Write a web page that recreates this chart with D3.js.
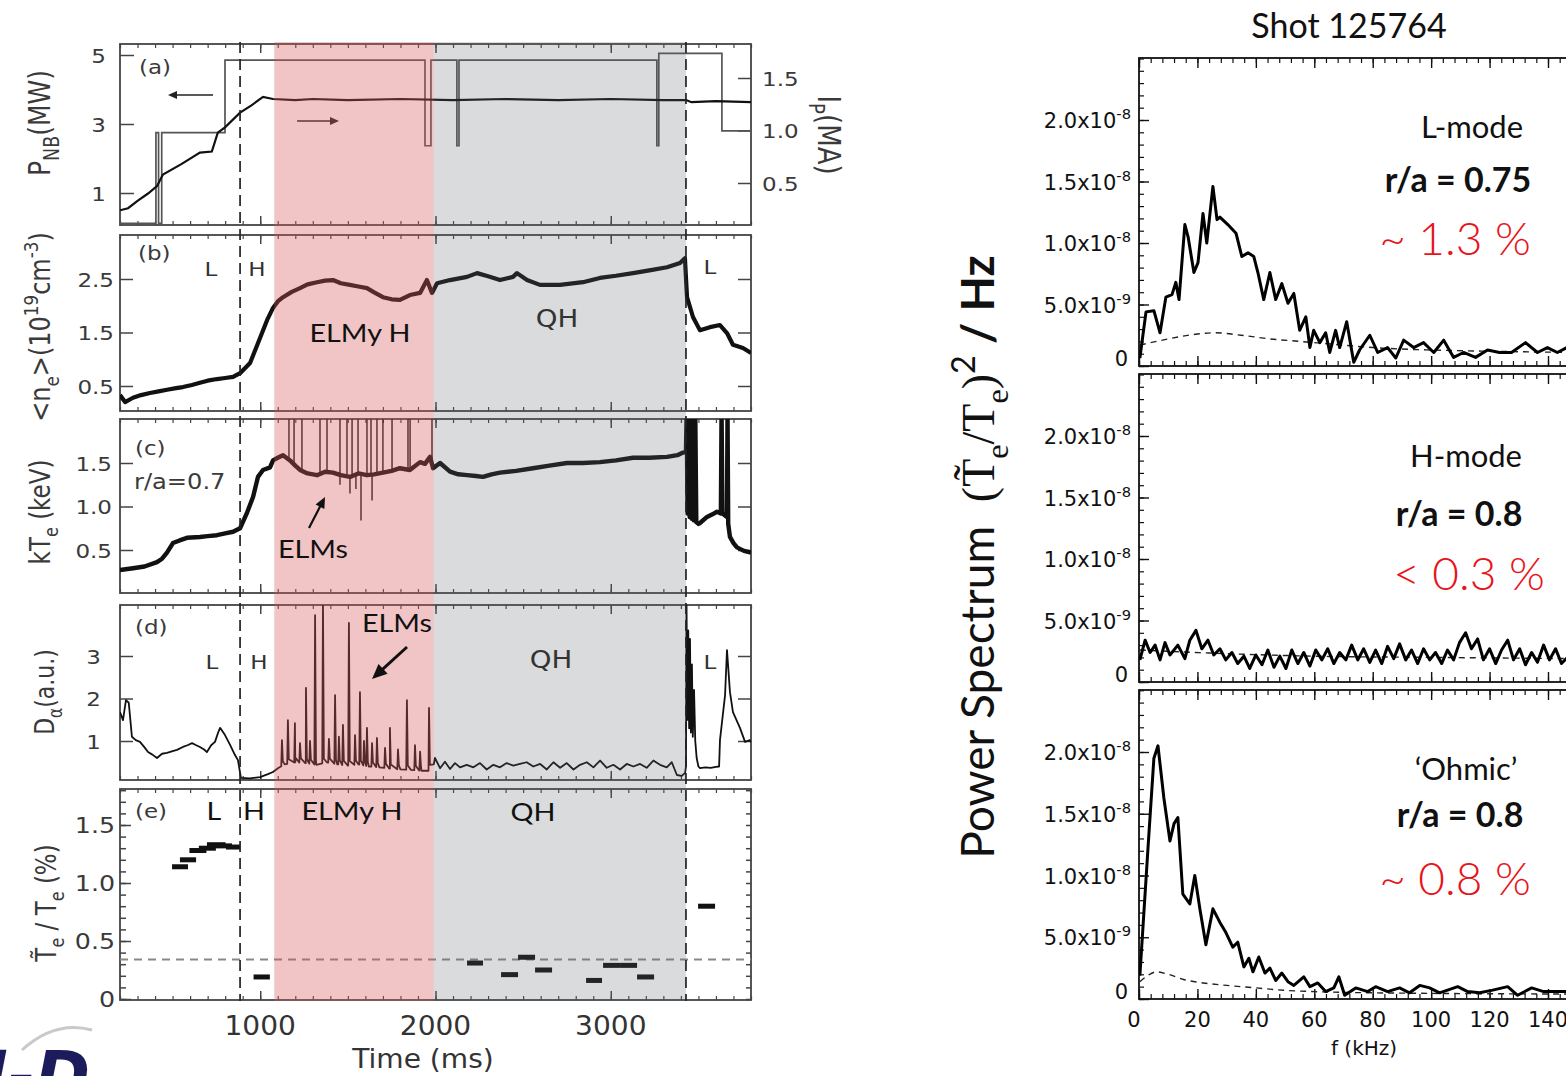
<!DOCTYPE html>
<html><head><meta charset="utf-8">
<script src="https://cdn.jsdelivr.net/npm/d3@7"></script>
<style>body{margin:0;background:#fff;overflow:hidden} svg{display:block} text{white-space:pre}</style>
</head><body>
<svg id="c" width="1566" height="1076"></svg>
<script>
// ================= DATA =================
const timeTicks = [1000, 2000, 3000];
const timeTickLabels = ["1000", "2000", "3000"];
const pnbTicks = [1, 3, 5];
const ipTicks = [0.5, 1.0, 1.5];
const neTicks = [0.5, 1.5, 2.5];
const teTicks = [0.5, 1.0, 1.5];
const daTicks = [1, 2, 3];
const flTicks = [0, 0.5, 1.0, 1.5];
const elmyBand = [1080, 1990];
const qhBand = [1990, 3429];
const transitions = [885, 3429];

// (a) neutral beam power (MW), step trace
const pnbSteps = [[200,0.12],[405,2.75],[420,0.12],[438,2.75],[799,4.85],[1940,2.37],[1974,4.85],[2122,2.37],[2134,4.85],[3263,2.37],[3274,5.05],[3634,2.8],[3800,2.8]];
// (a) plasma current (MA)
const ipTrace = [[200,0.24],[246,0.26],[300,0.33],[360,0.40],[411,0.47],[445,0.58],[550,0.68],[656,0.79],[724,0.80],[758,0.98],[799,1.03],[885,1.17],[950,1.24],[1016,1.32],[1073,1.30],[1200,1.29],[1300,1.30],[1500,1.29],[1800,1.30],[2100,1.29],[2400,1.30],[2700,1.29],[3000,1.30],[3300,1.29],[3430,1.29],[3460,1.27],[3600,1.28],[3800,1.27]];
// (b) line averaged density (1e19 cm^-3)
const neTrace = [[200,0.33],[229,0.20],[274,0.28],[320,0.33],[371,0.37],[420,0.40],[468,0.43],[520,0.46],[559,0.48],[610,0.52],[656,0.56],[700,0.60],[753,0.63],[800,0.65],[845,0.67],[885,0.74],[942,0.93],[987,1.30],[1039,1.73],[1073,1.96],[1100,2.08],[1130,2.16],[1180,2.26],[1227,2.33],[1270,2.40],[1324,2.44],[1370,2.47],[1415,2.48],[1460,2.42],[1512,2.39],[1560,2.36],[1609,2.33],[1650,2.25],[1700,2.16],[1750,2.12],[1797,2.11],[1854,2.20],[1912,2.24],[1951,2.48],[1980,2.24],[2009,2.42],[2083,2.48],[2180,2.54],[2237,2.61],[2300,2.55],[2368,2.48],[2442,2.54],[2465,2.61],[2522,2.48],[2596,2.39],[2710,2.39],[2841,2.44],[2938,2.52],[3030,2.56],[3127,2.61],[3220,2.66],[3321,2.72],[3395,2.80],[3423,2.89],[3435,2.16],[3469,1.79],[3509,1.54],[3566,1.60],[3623,1.64],[3663,1.49],[3697,1.27],[3754,1.21],[3800,1.12]];
// (c) electron temperature (keV)
const teTrace = [[200,0.27],[274,0.29],[340,0.31],[411,0.36],[440,0.40],[468,0.47],[502,0.58],[540,0.61],[582,0.64],[656,0.65],[700,0.66],[753,0.67],[800,0.69],[845,0.71],[885,0.75],[925,0.93],[959,1.11],[987,1.34],[1016,1.42],[1056,1.45],[1073,1.53],[1100,1.56],[1130,1.59],[1170,1.53],[1200,1.47],[1227,1.42],[1270,1.38],[1324,1.36],[1370,1.40],[1415,1.39],[1460,1.36],[1512,1.34],[1560,1.38],[1609,1.36],[1650,1.37],[1700,1.39],[1750,1.41],[1797,1.44],[1854,1.42],[1912,1.51],[1940,1.49],[1969,1.57],[1986,1.44],[2026,1.50],[2083,1.40],[2130,1.37],[2180,1.36],[2230,1.35],[2271,1.34],[2320,1.37],[2368,1.39],[2460,1.41],[2556,1.44],[2650,1.47],[2750,1.50],[2840,1.50],[2938,1.51],[3030,1.53],[3127,1.56],[3220,1.56],[3321,1.57],[3380,1.59],[3412,1.62],[3429,1.63],[3433,2.1],[3438,0.92],[3444,2.1],[3450,0.88],[3456,2.1],[3462,0.86],[3468,2.1],[3474,0.84],[3482,2.1],[3488,0.82],[3500,0.80],[3509,0.81],[3549,0.88],[3580,0.91],[3606,0.94],[3628,0.92],[3632,2.1],[3637,0.92],[3650,0.90],[3663,0.88],[3666,2.1],[3670,0.80],[3680,0.65],[3700,0.58],[3720,0.53],[3760,0.49],[3800,0.47]];
const teElmUp = [1164,1193,1238,1341,1381,1455,1495,1524,1558,1609,1632,1666,1700,1752,1843,1855,1980];
const teElmDown = [[1455,1.25],[1512,1.15],[1546,1.2],[1575,0.84],[1638,1.07]];
// (d) D-alpha (a.u.)
const daTrace = [[200,1.68],[217,1.49],[234,1.96],[250,1.9],[268,1.1],[290,1.02],[314,0.98],[340,0.85],[360,0.74],[385,0.68],[411,0.60],[440,0.70],[468,0.72],[500,0.76],[525,0.79],[559,0.86],[585,0.90],[611,0.95],[635,0.90],[656,0.86],[680,0.80],[696,0.74],[720,0.90],[742,0.98],[760,1.20],[771,1.31],[799,1.14],[828,0.91],[856,0.67],[873,0.55],[890,0.13],[940,0.12],[999,0.15],[1044,0.22],[1073,0.27],[1101,0.36],[1140,0.45],[1200,0.50],[1260,0.48],[1320,0.44],[1380,0.50],[1440,0.45],[1500,0.42],[1560,0.45],[1620,0.40],[1680,0.38],[1740,0.35],[1800,0.33],[1860,0.32],[1920,0.30],[1960,0.30],[1990,0.45],
 [1997,0.60],[2026,0.36],[2054,0.51],[2083,0.34],[2111,0.48],[2140,0.38],[2178,0.44],[2216,0.38],[2254,0.48],[2292,0.33],[2330,0.44],[2368,0.38],[2406,0.48],[2444,0.42],[2482,0.46],[2520,0.50],[2558,0.40],[2597,0.46],[2635,0.33],[2673,0.50],[2711,0.37],[2749,0.48],[2787,0.33],[2825,0.44],[2863,0.50],[2901,0.38],[2939,0.54],[2977,0.37],[3015,0.44],[3053,0.33],[3091,0.46],[3129,0.40],[3167,0.46],[3205,0.37],[3243,0.54],[3281,0.44],[3319,0.38],[3348,0.50],[3377,0.20],[3405,0.18],[3424,0.25],
 [3429,0.40],[3432,4.3],[3437,1.5],[3442,3.6],[3447,1.3],[3452,3.4],[3457,1.2],[3463,2.8],[3468,1.1],[3475,2.2],[3482,1.0],[3490,0.6],[3500,0.40],[3509,0.36],[3540,0.38],[3570,0.37],[3600,0.39],[3618,0.40],[3623,1.02],[3652,2.08],[3663,3.14],[3680,2.15],[3697,1.68],[3737,1.31],[3766,0.98],[3794,1.02],[3800,0.97]];
const daElmSpikes = [[1124,1.02],[1158,1.49],[1198,1.42],[1227,0.95],[1261,2.25],[1284,1.0],[1313,3.96],[1358,4.25],[1392,1.05],[1427,2.08],[1449,1.1],[1472,1.38],[1506,3.78],[1541,1.14],[1569,2.15],[1592,1.0],[1609,1.31],[1638,0.95],[1666,1.07],[1712,0.84],[1740,1.31],[1786,0.8],[1837,1.96],[1883,0.9],[1912,0.75],[1963,1.78]];
// (e) fluctuation level (%) : [t start, t end, value]
const flucBars = [[497,588,1.14],[542,634,1.20],[596,693,1.28],[650,747,1.30],[696,802,1.33],[742,839,1.32],[805,885,1.31],[962,1055,0.19],[2180,2271,0.31],[2374,2471,0.21],[2471,2568,0.36],[2568,2665,0.25],[2859,2950,0.16],[2956,3053,0.29],[3053,3150,0.29],[3150,3247,0.19],[3498,3595,0.80]];
const flucLevel = 0.34;

// Right: power spectra, frequency (kHz) vs power (1e-9 /Hz)
const freqTicks = [0, 20, 40, 60, 80, 100, 120, 140];
const psTicks = [0, 5, 10, 15, 20];
const psTickLabels = [["0",""],["5.0x10","-9"],["1.0x10","-8"],["1.5x10","-8"],["2.0x10","-8"]];
const lmodeSpec = [[0.3,0.65],[2.4,4.4],[5.1,4.5],[7.2,2.7],[9.2,5.6],[11.3,5.8],[12.6,6.8],[13.7,5.4],[15.7,11.5],[16.8,10.5],[18.8,7.6],[20.2,8.4],[21.9,12.4],[23.2,10.0],[25.3,14.6],[26.7,11.9],[27.7,12.1],[30.4,11.5],[33.2,10.8],[35.2,8.9],[37.3,9.2],[39.3,8.9],[40.7,7.6],[42.7,5.4],[44.8,7.6],[46.8,5.4],[48.9,6.7],[51.0,5.1],[53.0,5.9],[55.0,2.9],[57.1,4.0],[58.5,1.5],[59.8,2.9],[61.9,1.9],[63.9,2.7],[65.3,1.1],[67.3,2.9],[68.7,1.5],[71.1,3.6],[73.5,0.3],[75.5,1.3],[79.0,2.5],[81.7,1.1],[85.1,1.5],[87.9,0.65],[90.6,2.1],[94.0,1.5],[97.4,1.9],[100.9,1.1],[104.3,2.1],[107.7,0.7],[111.1,1.1],[115.2,0.7],[119.3,1.3],[123.4,1.1],[127.5,1.1],[132.3,1.9],[136.4,1.1],[139.8,1.5],[143.2,1.1],[146.5,1.5],[150,1.2]];
const lmodeNoise = [[0.3,1.7],[10,2.2],[20,2.6],[26,2.7],[35,2.5],[45,2.2],[55,2.0],[65,1.8],[80,1.5],[100,1.3],[120,1.2],[150,1.1]];
const hmodeSpec = [[0.3,1.8],[2.1,3.4],[3.8,2.4],[5.5,3.0],[7.2,1.8],[8.9,3.2],[10.6,2.2],[13.3,3.0],[15.7,1.9],[17.4,3.4],[19.5,4.2],[21.5,2.7],[23.6,3.4],[25.6,2.2],[27.7,2.7],[29.7,1.8],[31.8,2.4],[33.8,1.5],[35.9,2.1],[37.9,1.1],[40.0,2.2],[42.1,1.4],[44.1,2.6],[46.2,1.2],[48.2,2.1],[50.3,1.1],[52.3,2.6],[54.4,1.5],[56.4,2.4],[58.5,1.3],[60.5,2.6],[62.6,1.8],[64.6,2.7],[66.7,1.5],[68.7,2.4],[70.8,1.8],[72.8,3.0],[74.9,1.8],[76.9,2.7],[79.0,1.6],[81.0,2.6],[83.1,1.5],[85.1,2.9],[87.2,1.9],[89.2,3.1],[91.3,1.8],[93.3,2.6],[95.4,1.5],[97.4,2.7],[99.5,1.8],[101.5,2.4],[103.6,1.5],[105.6,2.6],[107.7,1.8],[109.7,3.2],[111.8,4.0],[113.8,2.7],[115.9,3.5],[117.9,1.8],[120.0,2.7],[122.1,1.5],[124.1,2.6],[126.2,3.4],[128.2,1.8],[130.3,2.7],[132.3,1.4],[134.4,2.4],[136.4,1.6],[138.5,3.0],[140.5,1.8],[142.6,2.7],[144.6,1.5],[146.7,2.0],[150,2.2]];
const hmodeNoise = [[0.3,2.6],[30,2.3],[60,2.1],[100,2.0],[150,1.9]];
const ohmicSpec = [[0.3,1.9],[3.1,12.3],[5.1,19.5],[6.5,20.5],[8.5,16.3],[10.6,12.8],[12.0,14.2],[13.3,14.7],[15.0,8.5],[17.4,7.7],[19.1,10.0],[20.9,7.2],[22.9,4.4],[25.3,7.3],[27.7,6.2],[29.7,5.4],[32.1,4.2],[33.8,4.6],[35.9,2.6],[37.6,3.3],[39.0,2.2],[41.0,3.4],[43.1,2.1],[44.8,2.5],[46.8,1.5],[48.9,2.1],[51.0,1.4],[53.0,1.1],[56.4,1.8],[58.5,1.0],[61.2,1.3],[63.9,0.6],[66.7,0.9],[68.4,1.8],[70.4,0.3],[74.2,0.9],[78.3,0.6],[81.0,1.0],[85.1,0.6],[89.2,0.9],[92.6,0.5],[96.1,1.1],[99.5,0.9],[102.9,0.5],[109.1,1.0],[112.5,0.6],[116.6,0.5],[120.7,0.7],[126.2,1.0],[129.6,0.3],[134.4,0.9],[138.5,0.6],[142.6,0.6],[146.0,0.6],[150,0.6]];
const ohmicNoise = [[0.3,1.4],[3,1.9],[6,2.2],[10,2.0],[15,1.6],[22,1.3],[30,1.1],[40,0.9],[50,0.7],[60,0.6],[80,0.5],[150,0.4]];
const spectra = [
  {spec: lmodeSpec, noise: lmodeNoise, mode: "L-mode", ra: "r/a = 0.75", level: "~ 1.3 %"},
  {spec: hmodeSpec, noise: hmodeNoise, mode: "H-mode", ra: "r/a = 0.8", level: "< 0.3 %"},
  {spec: ohmicSpec, noise: ohmicNoise, mode: "\u2018Ohmic\u2019", ra: "r/a = 0.8", level: "~ 0.8 %"}
];

// ================= DRAWING =================
const svg = d3.select('#c');
const SX = 1.15;
const FRAME = '#444';

function txt(parent, x, y, parts, o = {}) {
  const size = o.size || 20;
  let tr = `translate(${x},${y})`;
  if (o.sx) tr += ` scale(${o.sx},1)`;
  if (o.rot) tr += ` rotate(${o.rot})`;
  const t = parent.append('text').attr('transform', tr)
    .attr('font-family', o.font || 'DejaVu Sans').attr('font-size', size)
    .attr('fill', o.fill || '#333').attr('text-anchor', o.anchor || 'start')
    .attr('font-weight', o.weight || 'normal');
  if (typeof parts === 'string') parts = [{t: parts}];
  let cur = 0;
  parts.forEach(p => {
    const off = p.sub ? size * 0.3 : p.sup ? -size * 0.42 : 0;
    const ts = t.append('tspan').attr('dy', off - cur).text(p.t);
    if (p.sub || p.sup) ts.attr('font-size', size * 0.7);
    if (p.font) ts.attr('font-family', p.font);
    if (p.size) ts.attr('font-size', p.size);
    if (p.weight) ts.attr('font-weight', p.weight);
    cur = off;
  });
  return t;
}
function interp(trace, t) {
  const i = d3.bisector(d => d[0]).left(trace, t);
  if (i <= 0) return trace[0][1];
  if (i >= trace.length) return trace[trace.length - 1][1];
  const a = trace[i - 1], b = trace[i];
  return a[1] + (b[1] - a[1]) * (t - a[0]) / (b[0] - a[0]);
}
function styleAxis(s, w) {
  s.select('.domain').remove();
  s.selectAll('line').attr('stroke', FRAME).attr('stroke-width', w || 1.5);
}

// ---------- LEFT FIGURE ----------
const xT = d3.scaleLinear().domain([200, 3800]).range([120, 751]);
const LP = {
  a: {top: 44, bottom: 225, y: d3.scaleLinear().domain([1, 5]).range([193, 55])},
  b: {top: 235, bottom: 411, y: d3.scaleLinear().domain([0.5, 2.5]).range([386, 279])},
  c: {top: 419, bottom: 593, y: d3.scaleLinear().domain([0.5, 1.5]).range([550, 463])},
  d: {top: 605, bottom: 780, y: d3.scaleLinear().domain([1, 3]).range([741, 656])},
  e: {top: 789, bottom: 1000, y: d3.scaleLinear().domain([0, 1.5]).range([999, 825])}
};
const ipY = d3.scaleLinear().domain([0.5, 1.5]).range([183, 78]);
const defs = svg.append('defs');
Object.entries(LP).forEach(([k, p]) => {
  defs.append('clipPath').attr('id', 'clip' + k).append('rect')
    .attr('x', 120).attr('y', p.top).attr('width', 631).attr('height', p.bottom - p.top);
});
const gL = svg.append('g');
const minorT = d3.range(200, 3801, 100);

Object.entries(LP).forEach(([k, p]) => {
  gL.append('rect').attr('x', 120).attr('y', p.top).attr('width', 631).attr('height', p.bottom - p.top)
    .attr('fill', 'none').attr('stroke', FRAME).attr('stroke-width', 1.8);
  styleAxis(gL.append('g').attr('transform', `translate(0,${p.bottom})`)
    .call(d3.axisBottom(xT).tickValues(minorT).tickSize(-4).tickFormat('')), 1.2);
  styleAxis(gL.append('g').attr('transform', `translate(0,${p.bottom})`)
    .call(d3.axisBottom(xT).tickValues(timeTicks).tickSize(-9).tickFormat('')));
  styleAxis(gL.append('g').attr('transform', `translate(0,${p.top})`)
    .call(d3.axisTop(xT).tickValues(minorT).tickSize(-4).tickFormat('')), 1.2);
  styleAxis(gL.append('g').attr('transform', `translate(0,${p.top})`)
    .call(d3.axisTop(xT).tickValues(timeTicks).tickSize(-9).tickFormat('')));
});
function yTicks(p, vals, len, right, scale) {
  const sc = scale || p.y;
  styleAxis(gL.append('g').attr('transform', `translate(${right ? 751 : 120},0)`)
    .call((right ? d3.axisRight(sc) : d3.axisLeft(sc)).tickValues(vals).tickSize(-len).tickFormat('')));
}
yTicks(LP.a, pnbTicks, 14); yTicks(LP.a, ipTicks, 13, true, ipY);
yTicks(LP.b, neTicks, 13); yTicks(LP.b, neTicks, 13, true);
yTicks(LP.c, teTicks, 13); yTicks(LP.c, teTicks, 13, true);
yTicks(LP.d, daTicks, 13); yTicks(LP.d, daTicks, 13, true);
yTicks(LP.e, d3.range(0, 1.81, 0.1), 6); yTicks(LP.e, d3.range(0, 1.81, 0.1), 5, true);
yTicks(LP.e, flTicks, 11);

// traces
const lineT = (sc, curve) => d3.line().x(d => xT(d[0])).y(d => sc(d[1])).curve(curve || d3.curveLinear);
gL.append('path').datum(pnbSteps).attr('clip-path', 'url(#clipa)')
  .attr('d', lineT(LP.a.y, d3.curveStepAfter)).attr('fill', 'none').attr('stroke', '#555').attr('stroke-width', 1.7);
gL.append('path').datum(ipTrace).attr('clip-path', 'url(#clipa)')
  .attr('d', lineT(ipY)).attr('fill', 'none').attr('stroke', '#111').attr('stroke-width', 2.2);
gL.append('path').datum(neTrace).attr('clip-path', 'url(#clipb)')
  .attr('d', lineT(LP.b.y)).attr('fill', 'none').attr('stroke', '#111').attr('stroke-width', 4.2).attr('stroke-linejoin', 'round');
const teG = gL.append('g').attr('clip-path', 'url(#clipc)');
teElmUp.forEach(t => teG.append('line').attr('x1', xT(t)).attr('x2', xT(t))
  .attr('y1', LP.c.y(interp(teTrace, t))).attr('y2', LP.c.y(2.1)).attr('stroke', '#111').attr('stroke-width', 1.4));
teElmDown.forEach(d => teG.append('line').attr('x1', xT(d[0])).attr('x2', xT(d[0]))
  .attr('y1', LP.c.y(interp(teTrace, d[0]))).attr('y2', LP.c.y(d[1])).attr('stroke', '#111').attr('stroke-width', 1.4));
teG.append('path').datum(teTrace).attr('d', lineT(LP.c.y)).attr('fill', 'none').attr('stroke', '#111')
  .attr('stroke-width', 4.4).attr('stroke-linejoin', 'round');
const daAll = daTrace.slice();
daElmSpikes.forEach(([t, v]) => {
  daAll.push([t - 4, interp(daTrace, t - 4)], [t, v], [t + 5, interp(daTrace, t + 5) + 0.1]);
});
daAll.sort((a, b) => a[0] - b[0]);
gL.append('path').datum(daAll).attr('clip-path', 'url(#clipd)')
  .attr('d', lineT(LP.d.y)).attr('fill', 'none').attr('stroke', '#111').attr('stroke-width', 1.8).attr('stroke-linejoin', 'round');
gL.append('line').attr('x1', 120).attr('x2', 751).attr('y1', LP.e.y(flucLevel)).attr('y2', LP.e.y(flucLevel))
  .attr('stroke', '#888').attr('stroke-width', 2).attr('stroke-dasharray', '8,6');
gL.selectAll('rect.bar').data(flucBars).join('rect').attr('class', 'bar')
  .attr('x', d => xT(d[0])).attr('width', d => xT(d[1]) - xT(d[0]))
  .attr('y', d => LP.e.y(d[2]) - 2.5).attr('height', 5).attr('fill', '#111');

// arrows
function arrow(g, x1, y1, x2, y2, w, head, col) {
  const ang = Math.atan2(y2 - y1, x2 - x1);
  g.append('line').attr('x1', x1).attr('y1', y1).attr('x2', x2 - Math.cos(ang) * head * 0.8).attr('y2', y2 - Math.sin(ang) * head * 0.8)
    .attr('stroke', col).attr('stroke-width', w);
  const p1 = [x2 - head * Math.cos(ang) + head * 0.45 * Math.sin(ang), y2 - head * Math.sin(ang) - head * 0.45 * Math.cos(ang)];
  const p2 = [x2 - head * Math.cos(ang) - head * 0.45 * Math.sin(ang), y2 - head * Math.sin(ang) + head * 0.45 * Math.cos(ang)];
  g.append('path').attr('d', `M${x2},${y2}L${p1}L${p2}Z`).attr('fill', col);
}
arrow(gL, 213, 95, 168, 95, 1.4, 9, '#222');
arrow(gL, 297, 121, 339, 121, 1.4, 9, '#222');

// bands (overlay)
gL.append('rect').attr('x', xT(elmyBand[0])).attr('width', xT(elmyBand[1]) - xT(elmyBand[0]))
  .attr('y', 42).attr('height', 959).attr('fill', 'rgb(215,90,90)').attr('opacity', 0.35);
gL.append('rect').attr('x', xT(qhBand[0])).attr('width', xT(qhBand[1]) - xT(qhBand[0]))
  .attr('y', 42).attr('height', 959).attr('fill', 'rgb(90,100,105)').attr('opacity', 0.23);
transitions.forEach(t => gL.append('line').attr('x1', xT(t)).attr('x2', xT(t)).attr('y1', 42).attr('y2', 1001)
  .attr('stroke', '#222').attr('stroke-width', 1.7).attr('stroke-dasharray', '11,6'));

arrow(gL, 309, 528, 325, 497, 2.2, 11, '#111');
arrow(gL, 407, 647, 372, 679, 3, 15, '#111');

// tick labels
const tl = {size: 20, sx: SX, anchor: 'end', fill: '#3a3a3a'};
pnbTicks.forEach(v => txt(gL, 106, LP.a.y(v) + 7.5, String(v), tl));
ipTicks.forEach(v => txt(gL, 762, ipY(v) + 7.5, v.toFixed(1), {...tl, anchor: 'start'}));
neTicks.forEach(v => txt(gL, 114, LP.b.y(v) + 7.5, v.toFixed(1), tl));
teTicks.forEach(v => txt(gL, 112, LP.c.y(v) + 7.5, v.toFixed(1), tl));
daTicks.forEach(v => txt(gL, 101, LP.d.y(v) + 7.5, String(v), tl));
flTicks.forEach(v => txt(gL, 115, LP.e.y(v) + 8, v === 0 ? '0' : v.toFixed(1), {...tl, size: 22}));
timeTicks.forEach((v, i) => txt(gL, xT(v), 1035, timeTickLabels[i], {size: 26, sx: 1.08, anchor: 'middle', fill: '#333'}));
txt(gL, 423, 1068, 'Time (ms)', {size: 26, sx: 1.08, anchor: 'middle', fill: '#333'});

// axis titles
const at = {size: 24, sx: SX * 1.05, rot: -90, anchor: 'middle', fill: '#3a3a3a'};
txt(gL, 50, 123, [{t: 'P'}, {t: 'NB', sub: true}, {t: '(MW)'}], {...at, size: 25});
txt(gL, 50, 327, [{t: '<n'}, {t: 'e', sub: true}, {t: '>(10'}, {t: '19', sup: true}, {t: 'cm'}, {t: '-3', sup: true}, {t: ')'}], {...at, size: 24});
txt(gL, 50, 512, [{t: 'kT'}, {t: 'e', sub: true}, {t: ' (keV)'}], {...at, size: 23});
txt(gL, 54, 692, [{t: 'D'}, {t: '\u03b1', sub: true}, {t: '(a.u.)'}], {...at, size: 22});
txt(gL, 56, 903, [{t: 'T\u0303'}, {t: 'e', sub: true}, {t: ' / T'}, {t: 'e', sub: true}, {t: ' (%)'}], {...at, size: 23});
txt(gL, 818, 135, [{t: 'I'}, {t: 'P', sub: true}, {t: '(MA)'}], {...at, rot: 90, size: 26});

// panel annotations
const pa = {size: 20, sx: SX, fill: '#3a3a3a'};
txt(gL, 139, 74, '(a)', pa);
txt(gL, 138, 260, '(b)', pa);
txt(gL, 135, 455, '(c)', pa);
txt(gL, 135, 634, '(d)', pa);
txt(gL, 135, 818, '(e)', pa);
txt(gL, 134, 489, 'r/a=0.7', {...pa, size: 21});
const hl = {size: 20, sx: SX, fill: '#333', anchor: 'middle'};
txt(gL, 211, 276, 'L', hl); txt(gL, 257, 276, 'H', hl); txt(gL, 710, 274, 'L', hl);
txt(gL, 557, 327, 'QH', {...hl, size: 24});
txt(gL, 212, 669, 'L', hl); txt(gL, 259, 669, 'H', hl); txt(gL, 710, 669, 'L', hl);
txt(gL, 551, 668, 'QH', {...hl, size: 24});
const cl = {size: 25, sx: SX, fill: '#111', anchor: 'middle', font: 'Lato'};
txt(gL, 360, 342, 'ELMy H', cl);
txt(gL, 313, 558, 'ELMs', cl);
txt(gL, 397, 632, 'ELMs', cl);
txt(gL, 214, 820, 'L', cl); txt(gL, 254, 820, 'H', cl);
txt(gL, 352, 820, 'ELMy H', cl); txt(gL, 533, 821, 'QH', cl);

// logo (partial, bottom-left)
const logo = svg.append('g');
logo.append('path').attr('d', 'M22,1050 Q55,1020 92,1030').attr('fill', 'none').attr('stroke', '#c9c9c9').attr('stroke-width', 3);
txt(logo, 90, 1098, 'DIII-D', {size: 66, font: 'DejaVu Sans', weight: 'bold', anchor: 'end', fill: '#1c1b5c'})
  .attr('font-style', 'italic');

// ---------- RIGHT FIGURE ----------
const gR = svg.append('g');
const xF = d3.scaleLinear().domain([0, 140]).range([1139, 1548]);
const RP = [{top: 58, bottom: 366}, {top: 374, bottom: 682}, {top: 690, bottom: 999}];
const minorF = d3.range(0, 161, 4);
const minorP = d3.range(0, 26, 1);
RP.forEach((p, i) => {
  p.y = d3.scaleLinear().domain([0, 20]).range([p.bottom, p.bottom - (i === 2 ? 247 : 246)]);
  defs.append('clipPath').attr('id', 'rclip' + i).append('rect')
    .attr('x', 1139).attr('y', p.top).attr('width', 480).attr('height', p.bottom - p.top);
  gR.append('rect').attr('x', 1139).attr('y', p.top).attr('width', 480).attr('height', p.bottom - p.top)
    .attr('fill', 'none').attr('stroke', '#111').attr('stroke-width', 1.8);
  const sa = (s, w) => { s.select('.domain').remove(); s.selectAll('line').attr('stroke', '#111').attr('stroke-width', w); };
  sa(gR.append('g').attr('transform', `translate(0,${p.bottom})`).call(d3.axisBottom(xF).tickValues(minorF).tickSize(-5).tickFormat('')), 1.2);
  sa(gR.append('g').attr('transform', `translate(0,${p.bottom})`).call(d3.axisBottom(xF).tickValues(freqTicks).tickSize(-10).tickFormat('')), 1.4);
  sa(gR.append('g').attr('transform', `translate(0,${p.top})`).call(d3.axisTop(xF).tickValues(minorF).tickSize(-5).tickFormat('')), 1.2);
  sa(gR.append('g').attr('transform', `translate(0,${p.top})`).call(d3.axisTop(xF).tickValues(freqTicks).tickSize(-10).tickFormat('')), 1.4);
  sa(gR.append('g').attr('transform', 'translate(1139,0)').call(d3.axisLeft(p.y).tickValues(minorP).tickSize(-5).tickFormat('')), 1.2);
  sa(gR.append('g').attr('transform', 'translate(1139,0)').call(d3.axisLeft(p.y).tickValues(psTicks).tickSize(-10).tickFormat('')), 1.4);
  psTicks.forEach((v, j) => {
    const lab = psTickLabels[j];
    if (v === 0) txt(gR, 1128, p.y(v), lab[0], {size: 21, anchor: 'end', fill: '#111'});
    else txt(gR, 1131, p.y(v) + 8, [{t: lab[0]}, {t: lab[1], sup: true}], {size: 21, anchor: 'end', fill: '#111'});
  });
  const s = spectra[i];
  const lf = d3.line().x(d => xF(d[0])).y(d => p.y(d[1]));
  gR.append('path').datum(s.noise).attr('clip-path', `url(#rclip${i})`).attr('d', lf.curve(d3.curveMonotoneX))
    .attr('fill', 'none').attr('stroke', '#222').attr('stroke-width', 1.4).attr('stroke-dasharray', '6,5');
  gR.append('path').datum(s.spec).attr('clip-path', `url(#rclip${i})`).attr('d', d3.line().x(d => xF(d[0])).y(d => p.y(d[1])))
    .attr('fill', 'none').attr('stroke', '#000').attr('stroke-width', 3).attr('stroke-linejoin', 'round');
});
freqTicks.forEach(v => txt(gR, xF(v) - (v === 0 ? 5 : 0), 1027, String(v), {size: 21, anchor: 'middle', fill: '#111'}));
txt(gR, 1364, 1055, 'f (kHz)', {size: 20, anchor: 'middle', fill: '#111'});
txt(gR, 1349, 38, 'Shot 125764', {size: 34, font: 'Lato', anchor: 'middle', fill: '#111'});
const modeY = [[138, 192, 255], [467, 526, 590], [780, 827, 895]];
const modeX = [[1472, 1458, 1455], [1466, 1459, 1469], [1466, 1460, 1455]];
spectra.forEach((s, i) => {
  txt(gR, modeX[i][0], modeY[i][0], s.mode, {size: 31, font: 'Lato', anchor: 'middle', fill: '#111'});
  txt(gR, modeX[i][1], modeY[i][1], s.ra, {size: 34, font: 'Lato', anchor: 'middle', fill: '#111', weight: 'bold'});
  txt(gR, modeX[i][2], modeY[i][2], s.level, {size: 46, font: 'Lato', anchor: 'middle', fill: '#e8141b', weight: 300});
});
txt(gR, 994, 557, [
  {t: 'Power Spectrum  '},
  {t: '(T\u0303', font: 'Liberation Serif'}, {t: 'e', sub: true, font: 'Liberation Serif'},
  {t: '/T', font: 'Liberation Serif'}, {t: 'e', sub: true, font: 'Liberation Serif'}, {t: ')', font: 'Liberation Serif'},
  {t: '2', sup: true}, {t: ' / Hz', weight: 'bold'}
], {size: 46, font: 'Lato', rot: -90, anchor: 'middle', fill: '#111'});
</script>
</body></html>
